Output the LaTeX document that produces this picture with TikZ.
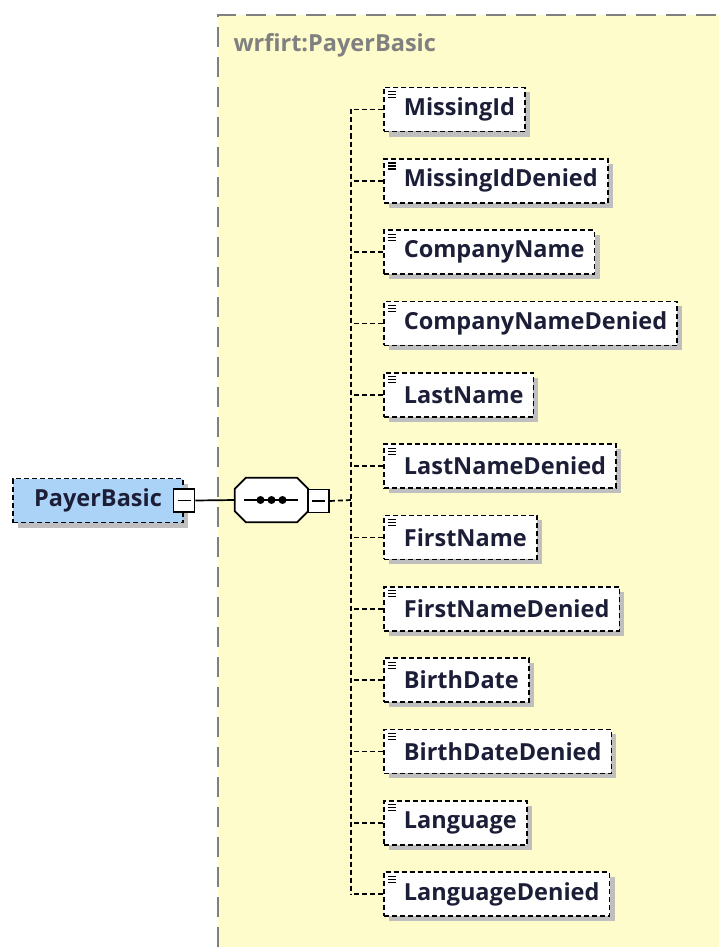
\documentclass[tikz,border=0pt]{standalone}
\usepackage{fontspec}
\setmainfont{Open Sans}
\usetikzlibrary{shadows}

\definecolor{grpyellow}{RGB}{253,252,202}
\definecolor{rootblue}{RGB}{171,211,247}
\definecolor{inkblue}{RGB}{28,30,55}

\begin{document}
\begin{tikzpicture}[x=1pt,y=-1pt,
  conn/.style={line width=1.7pt, dash pattern=on 5pt off 3pt},
  link/.style={line width=1.7pt},
  shade/.style={drop shadow={shadow xshift=5pt, shadow yshift=-5pt, fill=black!25, opacity=1}},
  elem/.style={draw, conn, fill=white, shade, anchor=west, minimum height=44pt,
    inner xsep=10pt, inner ysep=0pt, text=inkblue,
    font=\bfseries\fontsize{23.5}{23.5}\selectfont},
  root/.style={elem, fill=rootblue, anchor=center, minimum width=170pt},
  btn/.style={draw, link, fill=white, minimum width=21pt, minimum height=23pt, inner sep=0pt,
    path picture={\draw[link] ([xshift=4pt]path picture bounding box.west) -- ([xshift=-4pt]path picture bounding box.east);}},
  octa/.style={minimum width=73pt, minimum height=44pt, inner sep=0pt}
]
  \useasboundingbox (0,0) rectangle (719,947);

  % group frame
  \fill[grpyellow] (218,15) rectangle (719,947);
  \draw[gray, line width=1.7pt, dash pattern=on 20pt off 10pt] (218,947) -- (218,15) -- (719,15);
  \node[anchor=west, text=gray, font=\bfseries\fontsize{23.5}{23.5}\selectfont] (grp) at (230,45) {wrfirt:PayerBasic};

  % root and sequence
  \node[root] (payer) at (98,500.5) {PayerBasic};
  \node[octa] (seq) at (271.5,500) {};
  \fill[black!25, xshift=5pt, yshift=-5pt] ([xshift=11pt]seq.north west) -- ([xshift=-11pt]seq.north east)
    -- ([yshift=-11pt]seq.north east) -- ([yshift=11pt]seq.south east) -- ([xshift=-11pt]seq.south east)
    -- ([xshift=11pt]seq.south west) -- ([yshift=11pt]seq.south west) -- ([yshift=-11pt]seq.north west) -- cycle;
  \draw[link, fill=white] ([xshift=11pt]seq.north west) -- ([xshift=-11pt]seq.north east)
    -- ([yshift=-11pt]seq.north east) -- ([yshift=11pt]seq.south east) -- ([xshift=-11pt]seq.south east)
    -- ([xshift=11pt]seq.south west) -- ([yshift=11pt]seq.south west) -- ([yshift=-11pt]seq.north west) -- cycle;
  \draw[link] ([xshift=9pt]seq.west) -- ([xshift=-10pt]seq.east);
  \foreach \d in {-11,0,11}
    \fill ([xshift=\d pt]seq.center) circle (4pt);

  \node[btn] (payerbtn) at (184,500.5) {};
  \node[btn] (seqbtn) at (318.5,501) {};
  \coordinate (trunk) at (351,500);

  \draw[link] (payerbtn.east) -- (seq.west);
  \draw[conn] (seqbtn.east) -- (trunk);

  % children
  \foreach \name [count=\i] in {MissingId,MissingIdDenied,CompanyName,CompanyNameDenied,
      LastName,LastNameDenied,FirstName,FirstNameDenied,BirthDate,BirthDateDenied,
      Language,LanguageDenied} {
    \node[elem] (c\i) at (383,109.5+71.32*\i-71.32) {\hspace*{10pt}\name};
    \draw[line width=1.1pt] (c\i.north west) ++(5,5) -- ++(8,0) ++(-8,3) -- ++(8,0) ++(-8,3) -- ++(8,0);
    \draw[conn] (c\i.west) -- (c\i.west -| trunk);
  }
  \draw[conn] (c1.west -| trunk) -- (c12.west -| trunk);

\end{tikzpicture}
\end{document}
